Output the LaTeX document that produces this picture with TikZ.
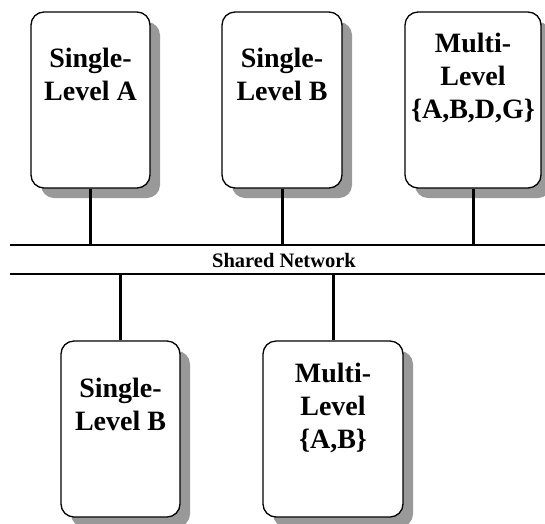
\documentclass[tikz,border=0pt]{standalone}
\usepackage{fontspec}
\setmainfont{Liberation Serif}
\usetikzlibrary{shadows}
\begin{document}
\begin{tikzpicture}[x=1pt,y=-1pt,
  hostbox/.style={draw=black, line width=1.3pt, rounded corners=13pt, fill=white, inner sep=0pt,
    minimum height=176pt,
    drop shadow={shadow xshift=10pt, shadow yshift=-10pt, fill=black!40, opacity=1}},
  hosttext/.style={align=center, font=\bfseries\fontsize{28}{33}\selectfont, inner sep=0pt},
  link/.style={line width=3pt},
  netline/.style={line width=1.8pt}]
\useasboundingbox (0,0) rectangle (545,523);
% network
\coordinate (nt1) at (10,245);
\coordinate (nt2) at (545,245);
\coordinate (nb1) at (10,274);
\coordinate (nb2) at (545,274);
\draw[netline] (nt1) -- (nt2);
\draw[netline] (nb1) -- (nb2);
\node[font=\bfseries\fontsize{20.5}{24}\selectfont, inner sep=0pt] (net) at (284,260) {Shared Network};
% top hosts
\node[hostbox, minimum width=119pt] (h1) at (90.5,100) {};
\node[hostbox, minimum width=120pt] (h2) at (282,100) {};
\node[hostbox, minimum width=136pt] (h3) at (473,100) {};
\node[hosttext] (t1) at (90.5,74) {Single-\\Level A};
\node[hosttext] (t2) at (282,74) {Single-\\Level B};
\node[hosttext] (t3) at (473,78) {Multi-\\Level\\\{A,B,D,G\}};
% bottom hosts
\node[hostbox, minimum width=119pt] (h4) at (120.5,429) {};
\node[hostbox, minimum width=140pt] (h5) at (333,429) {};
\node[hosttext] (t4) at (120.5,404) {Single-\\Level B};
\node[hosttext] (t5) at (333,408) {Multi-\\Level\\\{A,B\}};
% links
\draw[link] (h1.south) -- (h1.south |- nt1);
\draw[link] (h2.south) -- (h2.south |- nt1);
\draw[link] (h3.south) -- (h3.south |- nt1);
\draw[link] (h4.north) -- (h4.north |- nb1);
\draw[link] (h5.north) -- (h5.north |- nb1);
\end{tikzpicture}
\end{document}
